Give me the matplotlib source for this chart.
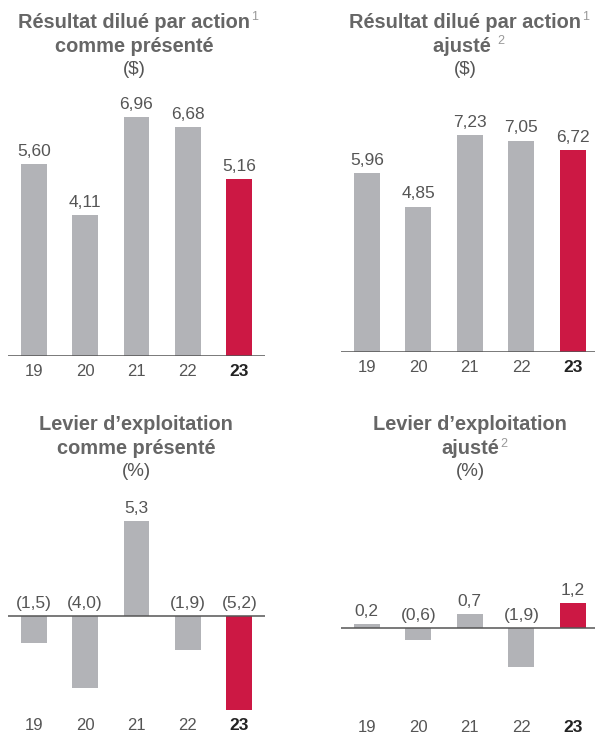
import matplotlib
matplotlib.use("Agg")
import matplotlib.pyplot as plt
from matplotlib.transforms import blended_transform_factory

plt.rcParams['font.family'] = ['Liberation Sans', 'DejaVu Sans']

years = ["19", "20", "21", "22", "23"]
eps_reported = [5.60, 4.11, 6.96, 6.68, 5.16]
eps_adjusted = [5.96, 4.85, 7.23, 7.05, 6.72]
lev_reported = [-1.5, -4.0, 5.3, -1.9, -5.2]
lev_adjusted = [0.2, -0.6, 0.7, -1.9, 1.2]

W, H = 595, 733
DPI = 100
fig = plt.figure(figsize=(W / DPI, H / DPI), dpi=DPI)
fig.patch.set_facecolor("white")

GRAY = "#b2b3b7"
RED = "#cc1844"
TITLE_C = "#666666"
TEXT_C = "#555555"


def fmt(v, dec):
    s = f"{abs(v):.{dec}f}".replace(".", ",")
    return f"({s})" if v < 0 else s


panels = [
    dict(vals=eps_reported, dec=2, left=8, right=265, base=356, scale=34.3, ylim=(0, 7.6),
         xr=4.5, lines=[("Résultat dilué par action", "1"), ("comme présenté", ""), ("($)", None)],
         ty=[22, 46, 70], cx=134, tick_y=372),
    dict(vals=eps_adjusted, dec=2, left=341, right=595, base=352, scale=30.0, ylim=(0, 8.0),
         xr=4.43, lines=[("Résultat dilué par action", "1"), ("ajusté ", "2"), ("($)", None)],
         ty=[22, 46, 70], cx=465, tick_y=368),
    dict(vals=lev_reported, dec=1, left=8, right=265, base=616, scale=18.0, ylim=(-5.5, 6.0),
         xr=4.5, lines=[("Levier d’exploitation", ""), ("comme présenté", ""), ("(%)", None)],
         ty=[425, 449, 472], cx=136, tick_y=726),
    dict(vals=lev_adjusted, dec=1, left=341, right=595, base=628, scale=20.5, ylim=(-2.5, 2.0),
         xr=4.43, lines=[("Levier d’exploitation", ""), ("ajusté", "2"), ("(%)", None)],
         ty=[425, 449, 472], cx=470, tick_y=727),
]

for p in panels:
    y0, y1 = p["ylim"]
    bottom_px = (H - p["base"]) + y0 * p["scale"]
    height_px = (y1 - y0) * p["scale"]
    ax = fig.add_axes([p["left"] / W, bottom_px / H, (p["right"] - p["left"]) / W, height_px / H])
    ax.set_xlim(-0.5, p["xr"])
    ax.set_ylim(y0, y1)
    ax.axis("off")
    x = list(range(len(years)))
    colors = [GRAY] * (len(years) - 1) + [RED]
    ax.bar(x, p["vals"], width=0.505, color=colors, zorder=2)
    ax.axhline(0, color="#555555", lw=1.1, zorder=3)
    for xi, v in zip(x, p["vals"]):
        ytop = max(v, 0)
        ax.annotate(fmt(v, p["dec"]), (xi, ytop), xytext=(0, 9), textcoords="offset points",
                    ha="center", va="center", fontsize=12.5, color=TEXT_C)
    tr = blended_transform_factory(ax.transData, fig.transFigure)
    for xi, lab in zip(x, years):
        last = xi == len(years) - 1
        ax.text(xi, (H - p["tick_y"]) / H, lab, transform=tr, ha="center", va="center",
                fontsize=12.5 if last else 12, color="#222222" if last else TEXT_C,
                fontweight="bold" if last else "normal")

fig.canvas.draw()
renderer = fig.canvas.get_renderer()
for p in panels:
    for (main, sup), ty in zip(p["lines"], p["ty"]):
        is_unit = sup is None
        t = fig.text(p["cx"] / W, (H - ty) / H, main, ha="center", va="center",
                     fontsize=14.4 if not is_unit else 13.5,
                     fontweight="normal" if is_unit else "bold",
                     color=TITLE_C if not is_unit else "#555555")
        if sup:
            bb = t.get_window_extent(renderer)
            fig.text((bb.x1 + 1) / W, (H - ty + 5) / H, sup, ha="left", va="center",
                     fontsize=9, color="#999999")

fig.savefig("out.png", dpi=DPI, facecolor="white")
